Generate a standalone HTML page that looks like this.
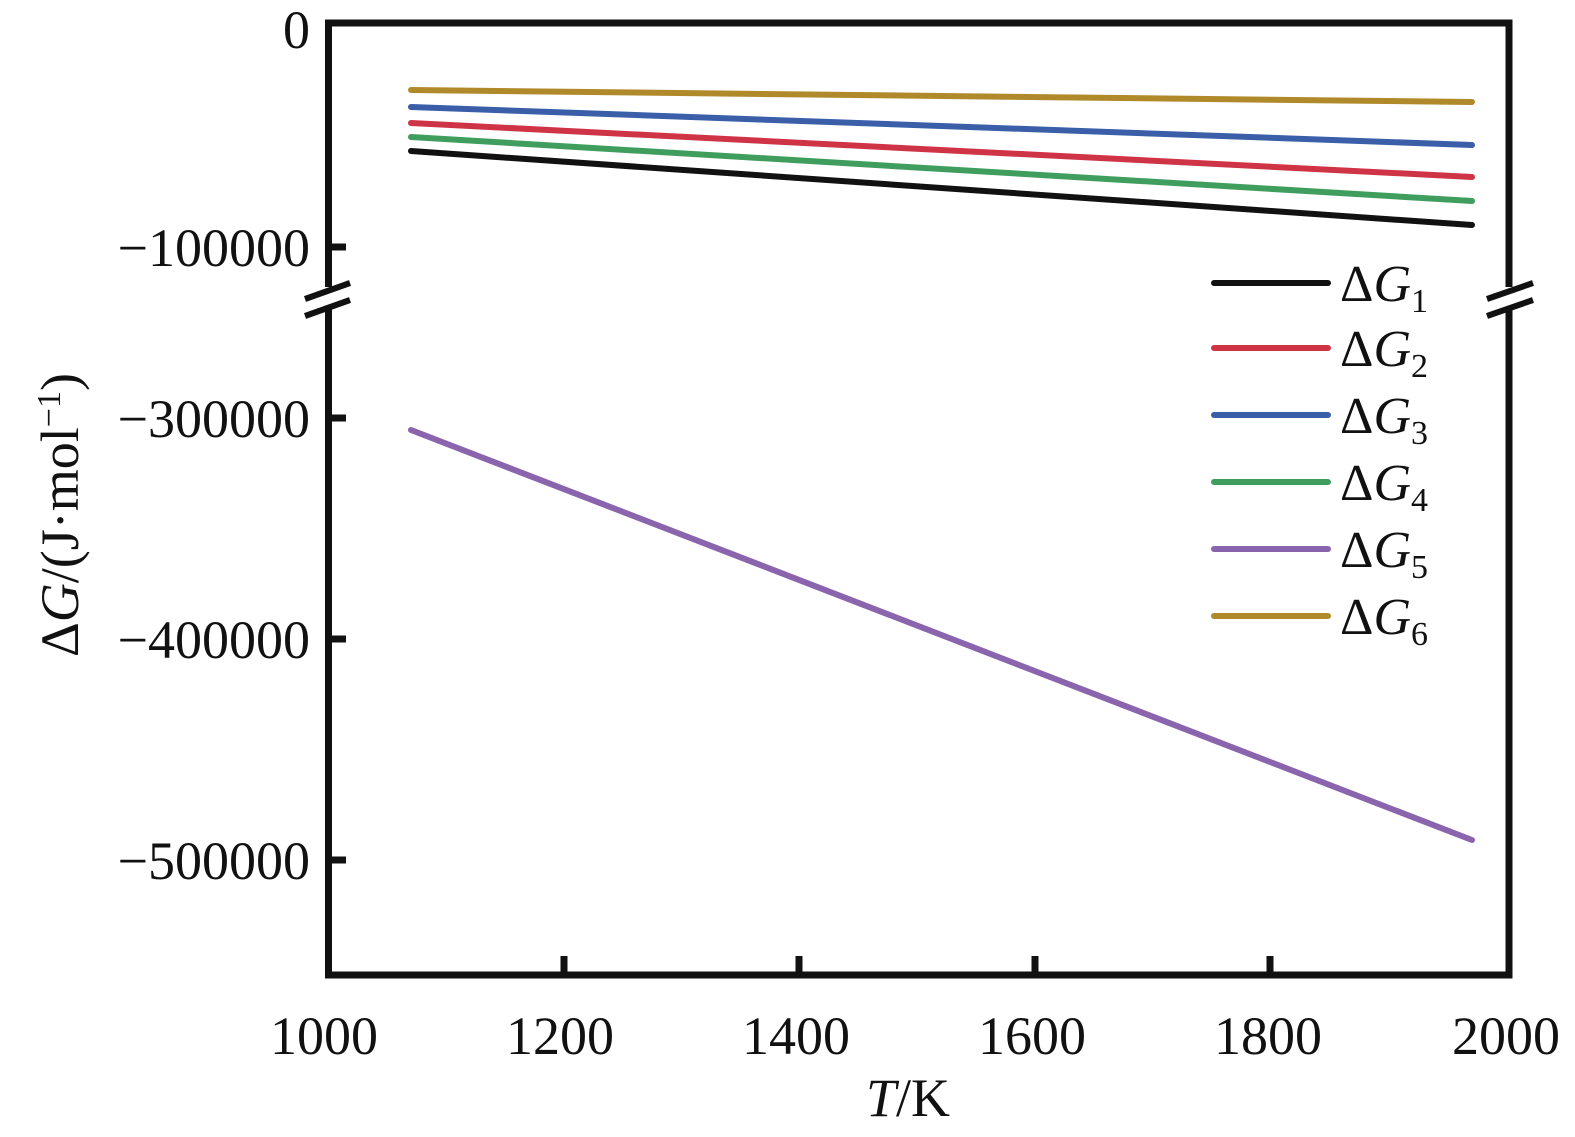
<!DOCTYPE html>
<html><head><meta charset="utf-8"><style>
html,body{margin:0;padding:0;background:#fff;}
svg{display:block;}
text{font-family:"Liberation Serif",serif;fill:#111;}
</style></head><body>
<svg width="1575" height="1137" viewBox="0 0 1575 1137" xmlns="http://www.w3.org/2000/svg">
<g stroke-width="6" stroke-linecap="round" fill="none">
<line x1="411" y1="90" x2="1472" y2="102" stroke="#b08a2a"/>
<line x1="411" y1="107" x2="1472" y2="145" stroke="#3a5fa8"/>
<line x1="411" y1="123" x2="1472" y2="177" stroke="#cf3446"/>
<line x1="411" y1="137" x2="1472" y2="201" stroke="#3f9e5e"/>
<line x1="411" y1="151" x2="1472" y2="225" stroke="#111"/>
<line x1="411" y1="430" x2="1472" y2="840" stroke="#8a64ad"/>
</g>
<g stroke="#111" stroke-width="7" fill="none">
<polyline points="328.5,287 328.5,23 1509,23 1509,287"/>
<polyline points="328.5,308 328.5,975 1509,975 1509,308"/>
<line x1="328" y1="247" x2="346" y2="247"/>
<line x1="328" y1="418" x2="346" y2="418"/>
<line x1="328" y1="639" x2="346" y2="639"/>
<line x1="328" y1="860" x2="346" y2="860"/>
<line x1="564" y1="975" x2="564" y2="956"/>
<line x1="799" y1="975" x2="799" y2="956"/>
<line x1="1035" y1="975" x2="1035" y2="956"/>
<line x1="1270" y1="975" x2="1270" y2="956"/>
</g>
<g stroke="#111" stroke-width="6">
<line x1="305" y1="299" x2="350" y2="283"/>
<line x1="305" y1="316" x2="350" y2="300"/>
<line x1="1487" y1="299" x2="1533" y2="283"/>
<line x1="1487" y1="316" x2="1533" y2="300"/>
</g>
<g font-size="54" text-anchor="end">
<text x="310" y="48">0</text>
<text x="310" y="266">−100000</text>
<text x="310" y="437">−300000</text>
<text x="310" y="658">−400000</text>
<text x="310" y="879">−500000</text>
</g>
<g font-size="54" text-anchor="middle">
<text x="324" y="1054">1000</text>
<text x="560" y="1054">1200</text>
<text x="796" y="1054">1400</text>
<text x="1032" y="1054">1600</text>
<text x="1268" y="1054">1800</text>
<text x="1506" y="1054">2000</text>
</g>
<text x="908" y="1116" font-size="54" text-anchor="middle"><tspan font-style="italic">T</tspan>/K</text>
<text transform="translate(78,515) rotate(-90)" font-size="54" text-anchor="middle">Δ<tspan font-style="italic">G</tspan>/(J·mol<tspan font-size="34" dy="-18">−1</tspan><tspan dy="18">)</tspan></text>
<g stroke-width="6" stroke-linecap="round">
<line x1="1214" y1="283" x2="1328" y2="283" stroke="#111"/>
<line x1="1214" y1="348" x2="1328" y2="348" stroke="#cf3446"/>
<line x1="1214" y1="415" x2="1328" y2="415" stroke="#3a5fa8"/>
<line x1="1214" y1="482" x2="1328" y2="482" stroke="#3f9e5e"/>
<line x1="1214" y1="549" x2="1328" y2="549" stroke="#8a64ad"/>
<line x1="1214" y1="616" x2="1328" y2="616" stroke="#b08a2a"/>
</g>
<g font-size="52">
<text x="1340" y="301">Δ<tspan font-style="italic">G</tspan><tspan font-size="34" dy="11">1</tspan></text>
<text x="1340" y="366">Δ<tspan font-style="italic">G</tspan><tspan font-size="34" dy="11">2</tspan></text>
<text x="1340" y="433">Δ<tspan font-style="italic">G</tspan><tspan font-size="34" dy="11">3</tspan></text>
<text x="1340" y="500">Δ<tspan font-style="italic">G</tspan><tspan font-size="34" dy="11">4</tspan></text>
<text x="1340" y="567">Δ<tspan font-style="italic">G</tspan><tspan font-size="34" dy="11">5</tspan></text>
<text x="1340" y="634">Δ<tspan font-style="italic">G</tspan><tspan font-size="34" dy="11">6</tspan></text>
</g>
</svg>
</body></html>
